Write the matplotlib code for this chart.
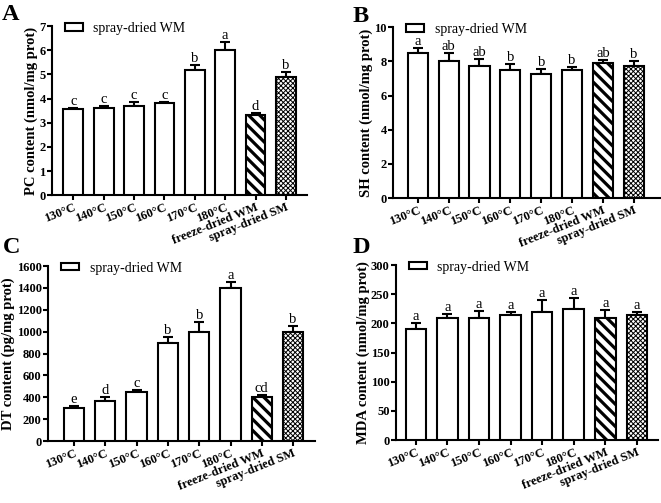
import numpy as np
from matplotlib import pyplot as plt

plt.rcParams['font.family'] = ['Liberation Serif', 'DejaVu Serif']

groups = ['130°C', '140°C', '150°C', '160°C', '170°C', '180°C',
          'freeze-dried WM', 'spray-dried SM']

pc_mean = [3.55, 3.6, 3.7, 3.8, 5.2, 6.0, 3.3, 4.9]
pc_err = [0.07, 0.1, 0.15, 0.07, 0.2, 0.35, 0.1, 0.2]
pc_sig = ['c', 'c', 'c', 'c', 'b', 'a', 'd', 'b']

sh_mean = [8.5, 8.0, 7.75, 7.5, 7.25, 7.5, 7.9, 7.75]
sh_err = [0.3, 0.5, 0.4, 0.35, 0.3, 0.15, 0.2, 0.25]
sh_sig = ['a', 'ab', 'ab', 'b', 'b', 'b', 'ab', 'b']

dt_mean = [300, 370, 450, 900, 1000, 1400, 400, 1000]
dt_err = [20, 30, 20, 55, 85, 50, 25, 50]
dt_sig = ['e', 'd', 'c', 'b', 'b', 'a', 'cd', 'b']

mda_mean = [190, 210, 210, 215, 220, 225, 210, 215]
mda_err = [10, 7, 12, 5, 20, 18, 13, 5]
mda_sig = ['a'] * 8


def draw_panel(ax, mean, err, sig, ylabel, ymax, step, xlim):
    x = np.arange(len(groups))
    bars = ax.bar(x, mean, width=0.65, color='white', edgecolor='black',
                  linewidth=1.5, zorder=3)
    bars[6].set_hatch('\\\\\\')
    bars[7].set_hatch('xxxxxxx')
    if hasattr(bars[6], 'set_hatch_linewidth'):
        bars[6].set_hatch_linewidth(2.3)
        bars[7].set_hatch_linewidth(0.7)
    ax.errorbar(x, mean, yerr=[np.zeros(len(err)), err], fmt='none',
                ecolor='black', elinewidth=1.5, capsize=3.5, capthick=1.5,
                zorder=2)
    for xi, m, e, s in zip(x, mean, err, sig):
        ax.text(xi, m + e, s, ha='center', va='bottom', fontsize=10.5)
    ax.set_ylim(0, ymax)
    ax.set_yticks(np.arange(0, ymax + step / 2, step))
    ax.set_xlim(*xlim)
    ax.set_xticks(x)
    ax.set_xticklabels(groups, rotation=22, ha='right', va='top',
                       rotation_mode='anchor', fontweight='bold', fontsize=9)
    for lab in ax.get_yticklabels():
        lab.set_fontweight('bold')
        lab.set_fontsize(9)
    ax.set_ylabel(ylabel, fontweight='bold', fontsize=10.5, labelpad=1)
    ax.spines['top'].set_visible(False)
    ax.spines['right'].set_visible(False)
    ax.spines['left'].set_linewidth(1.5)
    ax.spines['bottom'].set_linewidth(1.5)
    ax.tick_params(width=1.5, length=3.5, pad=1)
    ax.legend([bars[0]], ['spray-dried WM'], loc='upper left', frameon=False,
              fontsize=10, bbox_to_anchor=(0.05, 1.025), borderpad=0,
              borderaxespad=0, handlelength=1.3, handleheight=0.45,
              handletextpad=0.75)


fig = plt.figure(figsize=(6.61, 5.03), dpi=100)
ax_a = fig.add_axes([0.0787, 0.612, 0.386, 0.336])
ax_b = fig.add_axes([0.5946, 0.606, 0.404, 0.34])
ax_c = fig.add_axes([0.0726, 0.123, 0.404, 0.348])
ax_d = fig.add_axes([0.599, 0.125, 0.396, 0.348])

draw_panel(ax_a, pc_mean, pc_err, pc_sig, 'PC content (nmol/mg prot)',
           7, 1, (-0.7, 7.7))
draw_panel(ax_b, sh_mean, sh_err, sh_sig, 'SH content (nmol/mg prot)',
           10, 2, (-0.8, 7.85))
draw_panel(ax_c, dt_mean, dt_err, dt_sig, 'DT content (pg/mg prot)',
           1600, 200, (-0.83, 7.7))
draw_panel(ax_d, mda_mean, mda_err, mda_sig, 'MDA content (nmol/mg prot)',
           300, 50, (-0.63, 7.66))

for lbl, (px, py) in zip('ABCD', [(0.003, 0.961), (0.533, 0.957),
                                   (0.004, 0.497), (0.533, 0.497)]):
    fig.text(px, py, lbl, fontsize=17.5, fontweight='bold', ha='left',
             va='baseline')

fig.savefig('out.png', dpi=100)
